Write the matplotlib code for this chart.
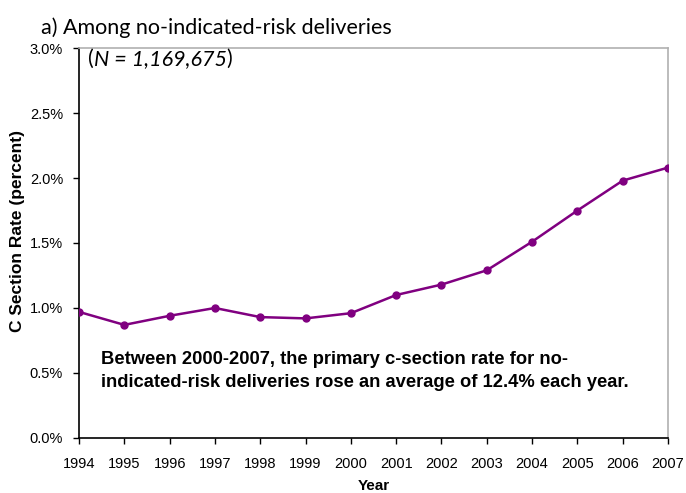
import matplotlib
matplotlib.use("Agg")
import matplotlib.pyplot as plt
from matplotlib.ticker import FuncFormatter

years = [1994, 1995, 1996, 1997, 1998, 1999, 2000,
         2001, 2002, 2003, 2004, 2005, 2006, 2007]
rates = [0.97, 0.87, 0.94, 1.00, 0.93, 0.92, 0.96,
         1.10, 1.18, 1.29, 1.51, 1.75, 1.98, 2.08]
y_ticks = [0.0, 0.5, 1.0, 1.5, 2.0, 2.5, 3.0]

title = "a) Among no-indicated-risk deliveries"
n_label = "N = 1,169,675"
note = ("Between 2000-2007, the primary c-section rate for no-\n"
        "indicated-risk deliveries rose an average of 12.4% each year.")

plt.rcParams["font.family"] = ["Liberation Sans", "DejaVu Sans"]
title_font = ["Lato", "DejaVu Sans"]

fig = plt.figure(figsize=(6.86, 4.93), dpi=100)
ax = fig.add_axes([0.1152, 0.1116, 0.8586, 0.791])

ax.plot(years, rates, color="#800080", linewidth=1.8,
        marker="o", markersize=5, zorder=3)

ax.set_xlim(years[0], years[-1])
ax.set_ylim(y_ticks[0], y_ticks[-1])
ax.set_xticks(years)
ax.set_yticks(y_ticks)
ax.yaxis.set_major_formatter(FuncFormatter(lambda v, _: f"{v:.1f}%"))
ax.tick_params(axis="both", direction="out", length=4.5, width=1,
               labelsize=10.5, color="black")
ax.tick_params(axis="y", pad=7)
ax.tick_params(axis="x", pad=9)

for side in ("left", "bottom"):
    ax.spines[side].set_color("black")
    ax.spines[side].set_linewidth(1.2)
for side in ("top", "right"):
    ax.spines[side].set_color("#b0b0b0")
    ax.spines[side].set_linewidth(1.2)

ax.set_xlabel("Year", fontsize=11, fontweight="bold", labelpad=6)
ax.set_ylabel("C Section Rate (percent)", fontsize=12.5, fontweight="bold")
ax.yaxis.set_label_coords(-0.092, 0.53)

fig.text(0.06, 0.932, title, fontsize=15.5, family=title_font,
         va="baseline")

# "(N = 1,169,675)" with only the inner part in italics
t1 = ax.text(0.015, 0.972, "(", transform=ax.transAxes, fontsize=15.5,
             family=title_font, va="center")
t2 = ax.annotate(n_label, xy=(1, 0), xycoords=t1, fontsize=15.5,
                 family=title_font, style="italic", va="bottom")
ax.annotate(")", xy=(1, 0), xycoords=t2, fontsize=15.5,
            family=title_font, va="bottom")

ax.text(0.037, 0.172, note, transform=ax.transAxes, fontsize=13.2,
        fontweight="bold", va="center", linespacing=1.5)

fig.savefig("out.png", dpi=100)
